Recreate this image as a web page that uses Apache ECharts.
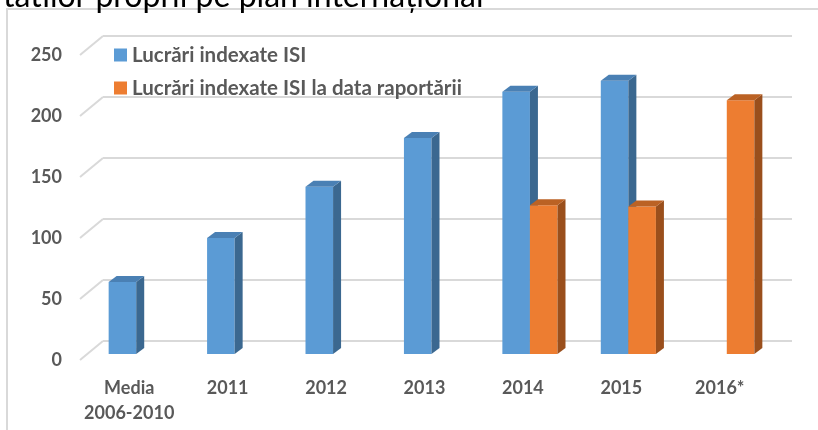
<!DOCTYPE html>
<html><head><meta charset="utf-8">
<script src="https://cdn.jsdelivr.net/npm/echarts@6/dist/echarts.min.js"></script>
<style>html,body{margin:0;padding:0;background:#fff}#c{width:818px;height:430px}</style>
</head><body><div id="c"></div>
<script>
const categories = ['Media\n2006-2010', '2011', '2012', '2013', '2014', '2015', '2016*'];
const seriesNames = ['Lucrări indexate ISI', 'Lucrări indexate ISI la data raportării'];
const valuesISI = [59, 95, 137, 177, 215, 224, null];
const valuesRaport = [null, null, null, null, 122, 121, 208];
const yTicks = [0, 50, 100, 150, 200, 250];

const FONT = 'Lato, "Open Sans", sans-serif';
const FRONT_DX = -16, FRONT_DY = 13, DEPTH_DX = 8, DEPTH_DY = -6;
const colorsFront = ['#5b9bd5', '#ed7d31'];
const colorsSide = ['#3b6890', '#9a4f1c'];
const colorsTop = ['#4a80b4', '#bb6224'];

function pairs(arr) { return arr.map((v, i) => v == null ? null : [i, v]).filter(d => d); }

function barRender(idx) {
  return function (params, api) {
    const cat = api.value(0), val = api.value(1);
    const top = api.coord([cat, val]);
    const base = api.coord([cat, 0]);
    const band = api.size([1, 0])[0];
    const bw = band * 0.28;
    const x0 = top[0] + FRONT_DX + (idx === 0 ? -bw : 0);
    const yT = top[1] + FRONT_DY, yB = base[1] + FRONT_DY;
    const dx = DEPTH_DX, dy = DEPTH_DY;
    return { type: 'group', children: [
      { type: 'rect', shape: { x: x0, y: yT, width: bw, height: yB - yT }, style: { fill: colorsFront[idx] } },
      { type: 'polygon', shape: { points: [[x0 + bw, yT], [x0 + bw + dx, yT + dy], [x0 + bw + dx, yB + dy], [x0 + bw, yB]] }, style: { fill: colorsSide[idx] } },
      { type: 'polygon', shape: { points: [[x0, yT], [x0 + dx, yT + dy], [x0 + bw + dx, yT + dy], [x0 + bw, yT]] }, style: { fill: colorsTop[idx] } }
    ]};
  };
}

const chart = echarts.init(document.getElementById('c'), null, { renderer: 'canvas' });
chart.setOption({
  animation: false,
  backgroundColor: '#fff',
  title: { text: 'tatilor proprii pe plan internațional', left: -2, top: -24,
    textStyle: { fontFamily: FONT, fontSize: 32, fontWeight: 'normal', color: '#000' } },
  graphic: [{ type: 'rect', shape: { x: 7, y: 9, width: 900, height: 500 }, style: { fill: 'none', stroke: '#d9d9d9', lineWidth: 2 }, z: -1 }],
  legend: { orient: 'vertical', left: 109, top: 39, itemWidth: 13, itemHeight: 13, itemGap: 11, icon: 'rect',
    textStyle: { fontFamily: FONT, fontSize: 20.5, fontWeight: 'bold', color: '#595959', lineHeight: 22 },
    data: seriesNames },
  grid: [
    { left: 103, right: 26, top: 36, bottom: 89 },
    { left: 80, right: 49, top: 55, bottom: 70 }
  ],
  xAxis: [
    { type: 'category', gridIndex: 0, data: categories, axisLine: { show: false }, axisTick: { show: false }, axisLabel: { show: false } },
    { type: 'category', gridIndex: 1, data: categories, axisLine: { show: false }, axisTick: { show: false },
      axisLabel: { margin: 16, fontFamily: FONT, fontSize: 18, fontWeight: 'bold', color: '#595959', lineHeight: 25, interval: 0 } }
  ],
  yAxis: [
    { type: 'value', gridIndex: 0, min: 0, max: 250, interval: 50, axisLabel: { show: false }, axisLine: { show: false }, axisTick: { show: false },
      splitLine: { lineStyle: { color: '#d9d9d9', width: 2 } } },
    { type: 'value', gridIndex: 1, min: 0, max: 250, interval: 50, axisLine: { show: false }, axisTick: { show: false }, splitLine: { show: false },
      axisLabel: { margin: 18, fontFamily: FONT, fontSize: 18, fontWeight: 'bold', color: '#595959' } }
  ],
  series: [
    { type: 'custom', name: 'grid-diag', xAxisIndex: 0, yAxisIndex: 0, silent: true, z: 1,
      data: yTicks.map(v => [0, v]),
      renderItem: function (params, api) {
        const p = api.coord([api.value(0), api.value(1)]);
        const band = api.size([1, 0])[0];
        const xl = p[0] - band / 2;
        return { type: 'line', shape: { x1: xl, y1: p[1], x2: xl - 23, y2: p[1] + 19 }, style: { stroke: '#d9d9d9', lineWidth: 2 } };
      } },
    { type: 'custom', name: seriesNames[0], xAxisIndex: 0, yAxisIndex: 0, z: 3, itemStyle: { color: colorsFront[0] },
      data: pairs(valuesISI), renderItem: barRender(0) },
    { type: 'custom', name: seriesNames[1], xAxisIndex: 0, yAxisIndex: 0, z: 4, itemStyle: { color: colorsFront[1] },
      data: pairs(valuesRaport), renderItem: barRender(1) }
  ]
});
</script></body></html>
